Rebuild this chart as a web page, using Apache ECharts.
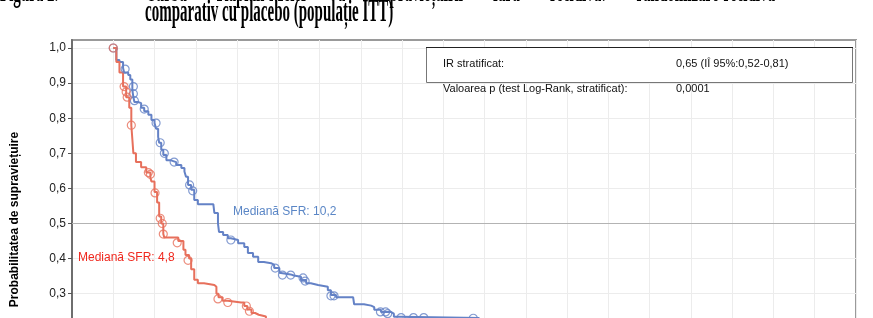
<!DOCTYPE html>
<html><head><meta charset="utf-8">
<script src="https://cdn.jsdelivr.net/npm/echarts@6/dist/echarts.min.js"></script>
<style>html,body{margin:0;padding:0;background:#fff}#c{width:873px;height:318px}</style>
</head><body><div id="c"></div>
<script>
// ---- data (months, survival probability) ----
const blueTime = [0,0.3,0.6,0.95,1.05,1.45,1.65,1.85,1.95,2.05,2.4,2.7,3.0,3.4,3.7,4.0,4.15,4.35,4.45,4.65,4.85,5.15,5.6,6.1,6.6,6.9,7.05,7.25,7.55,7.85,8.2,9.7,9.8,10.15,10.25,10.65,11.1,11.4,12.1,12.7,13.05,13.55,14.05,14.6,15.3,15.6,16.1,16.25,17.2,17.5,18.2,18.7,19.15,19.85,20.8,21.1,21.6,23.25,23.35,24.3,25.0,25.3,25.95,26.9,27.2,27.9,35.5];
const blueSurv = [1.0,0.966,0.96,0.943,0.93,0.923,0.91,0.88,0.86,0.846,0.843,0.83,0.82,0.81,0.795,0.786,0.77,0.747,0.73,0.71,0.695,0.68,0.675,0.667,0.658,0.648,0.633,0.61,0.596,0.567,0.555,0.553,0.53,0.50,0.476,0.467,0.458,0.453,0.444,0.433,0.416,0.405,0.39,0.387,0.382,0.373,0.36,0.355,0.352,0.348,0.339,0.33,0.325,0.32,0.31,0.296,0.29,0.288,0.27,0.266,0.262,0.254,0.248,0.243,0.234,0.231,0.231];
const blueCensTime = [0,1.15,1.95,1.95,2.05,3.0,4.15,4.55,4.95,5.9,7.4,7.7,11.4,15.7,16.4,17.2,18.4,18.6,21.1,21.4,25.9,26.4,26.6,27.9,29.1,30.1,34.9];
const blueCensSurv = [1.0,0.94,0.89,0.87,0.85,0.826,0.786,0.73,0.70,0.675,0.61,0.593,0.453,0.373,0.353,0.353,0.345,0.336,0.294,0.294,0.248,0.248,0.243,0.232,0.232,0.232,0.23];

const redTime = [0,0.3,0.6,0.95,1.25,1.55,1.75,1.85,1.95,2.2,2.7,3.2,3.6,3.7,4.0,4.25,4.45,4.65,4.85,4.95,5.9,6.3,6.8,7.0,7.35,7.55,7.85,8.2,8.8,9.8,10.0,10.2,10.6,11.1,12.4,12.7,13.0,13.4,13.75,14.1,14.8,16.0];
const redSurv = [1.0,0.96,0.93,0.89,0.86,0.83,0.78,0.74,0.70,0.675,0.66,0.645,0.63,0.62,0.59,0.56,0.52,0.50,0.47,0.46,0.46,0.45,0.425,0.41,0.40,0.37,0.34,0.33,0.325,0.32,0.30,0.29,0.28,0.275,0.275,0.265,0.255,0.245,0.24,0.235,0.22,0.21];
const redCensTime = [0,1.05,1.25,1.35,1.75,3.4,3.6,4.05,4.55,4.75,4.85,6.2,7.25,10.15,11.1,12.9,13.2];
const redCensSurv = [1.0,0.89,0.875,0.86,0.78,0.645,0.64,0.587,0.515,0.50,0.47,0.445,0.395,0.285,0.275,0.265,0.25];

const yTicks = [0,0.1,0.2,0.3,0.4,0.5,0.6,0.7,0.8,0.9,1.0];
const medianLine = 0.5;
const titleLine1 = ["Figura 2.", "Curba", "Kaplan-Meier", "a", "supraviețuirii", "fără", "recidivă:", "randomizare-recidivă"];
const titleLine2 = "comparativ cu placebo (populație ITT)";
const labelBlue = "Mediană SFR: 10,2";
const labelRed = "Mediană SFR: 4,8";
const infoRows = [["IR stratificat:", "0,65 (IÎ 95%:0,52-0,81)"], ["Valoarea p (test Log-Rank, stratificat):", "0,0001"]];
const yTitle = "Probabilitatea de supraviețuire";

const BLUE = '#6482c6', RED = '#e7705c';
const zip = (a, b) => a.map((v, i) => [v, b[i]]);

// first title line: justified words
const cv = document.createElement('canvas').getContext('2d');
const fnt = 'bold 15px "Liberation Serif"';
cv.font = fnt;
const words = titleLine1.slice(1);
const widths = words.map(w => cv.measureText(w).width);
const startX = 145, endX = 775;
const gap = (endX - startX - widths.reduce((s, v) => s + v, 0)) / (words.length - 1);
const g = [];
const TY1 = -22, SY = 2.05;
g.push({type: 'text', x: 0, y: TY1, scaleY: SY, style: {text: titleLine1[0], font: fnt, fill: '#000'}});
let cx = startX;
words.forEach((w, i) => {
  g.push({type: 'text', x: cx, y: TY1, scaleY: SY, style: {text: w, font: fnt, fill: '#000'}});
  cx += widths[i] + gap;
});
g.push({type: 'text', x: 145, y: -2, scaleY: SY, style: {text: titleLine2, font: fnt, fill: '#000'}});
// info box
g.push({type: 'rect', shape: {x: 426.5, y: 47.5, width: 426, height: 35}, style: {fill: '#fff', stroke: '#777', lineWidth: 1}, z: 10});
g.push({type: 'line', shape: {x1: 426, y1: 47.5, x2: 853, y2: 47.5}, style: {stroke: '#222', lineWidth: 1}, z: 11});
infoRows.forEach((r, i) => {
  g.push({type: 'text', x: 443, y: 64 + i * 25, z: 12, style: {text: r[0], font: '11px "Liberation Sans"', fill: '#111', verticalAlign: 'middle'}});
  g.push({type: 'text', x: 676, y: 64 + i * 25, z: 12, style: {text: r[1], font: '11px "Liberation Sans"', fill: '#111', verticalAlign: 'middle'}});
});
g.push({type: 'text', x: 233, y: 212, z: 12, style: {text: labelBlue, font: '12px "Liberation Sans"', fill: '#5a86c6', verticalAlign: 'middle'}});
g.push({type: 'text', x: 78, y: 258, z: 12, style: {text: labelRed, font: '12px "Liberation Sans"', fill: '#f0281e', verticalAlign: 'middle'}});

const chart = echarts.init(document.getElementById('c'), null, {renderer: 'canvas'});
chart.setOption({
  animation: false,
  backgroundColor: '#fff',
  grid: {left: 72, top: 40, width: 784, height: 359, outerBoundsMode: 'none', containLabel: false,
    show: true, borderColor: '#9a9a9a', borderWidth: 2, backgroundColor: '#fff'},
  xAxis: {type: 'value', min: -4, max: 72, interval: 4,
    axisLabel: {show: false}, axisTick: {show: false}, axisLine: {show: false, onZero: false},
    splitLine: {show: true, lineStyle: {color: '#ececec', width: 1}}},
  yAxis: {type: 'value', min: 0, max: 1.0228, interval: 0.1,
    name: yTitle, nameLocation: 'middle', nameGap: 51, nameRotate: 90,
    nameTextStyle: {fontFamily: 'Liberation Sans', fontWeight: 'bold', fontSize: 12, color: '#000'},
    axisLine: {show: true, onZero: false, lineStyle: {color: '#6e6e6e', width: 2}},
    axisTick: {show: true, length: 4, inside: false, lineStyle: {color: '#555'}, customValues: yTicks},
    axisLabel: {color: '#222', fontFamily: 'Liberation Sans', fontSize: 12, margin: 6, customValues: yTicks,
      formatter: v => v.toFixed(1).replace('.', ',')},
    splitLine: {show: true, lineStyle: {color: '#ececec', width: 1}}},
  series: [
    {type: 'line', data: zip(blueTime, blueSurv), step: 'end', showSymbol: false, symbol: 'none',
     lineStyle: {color: BLUE, width: 2}, z: 5,
     markLine: {silent: true, symbol: 'none', label: {show: false}, lineStyle: {color: '#b3b3b3', width: 1.2, type: 'solid'}, data: [{yAxis: medianLine}], z: 1}},
    {type: 'line', data: zip(redTime, redSurv), step: 'end', showSymbol: false, symbol: 'none',
     lineStyle: {color: RED, width: 2}, z: 5},
    {type: 'scatter', data: zip(blueCensTime, blueCensSurv), symbol: 'circle', symbolSize: 8,
     itemStyle: {color: 'rgba(0,0,0,0)', borderColor: BLUE, borderWidth: 1.2}, z: 6},
    {type: 'scatter', data: zip(redCensTime, redCensSurv), symbol: 'circle', symbolSize: 8,
     itemStyle: {color: 'rgba(0,0,0,0)', borderColor: RED, borderWidth: 1.2}, z: 6}
  ],
  graphic: g
});
</script>
</body></html>
